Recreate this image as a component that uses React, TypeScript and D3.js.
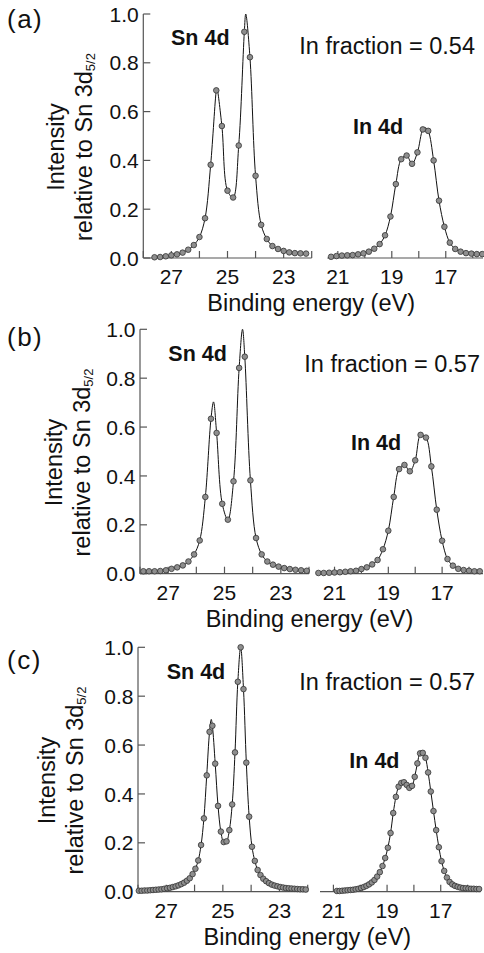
import React from 'react';
import * as d3 from 'd3';

const FONT = '"Liberation Sans", Arial, Helvetica, sans-serif';

// ---------- data: panel (a) ----------
const aSnE = [27.6, 27.4, 27.2, 27.0, 26.8, 26.6, 26.4, 26.2, 26.0, 25.8, 25.6, 25.4, 25.2, 25.0, 24.8, 24.6, 24.4, 24.2, 24.0, 23.8, 23.6, 23.4, 23.2, 23.0, 22.8, 22.6, 22.4, 22.2];
const aSnI = [0.003, 0.004, 0.007, 0.011, 0.015, 0.022, 0.034, 0.053, 0.086, 0.163, 0.382, 0.687, 0.541, 0.276, 0.248, 0.461, 0.927, 0.823, 0.337, 0.136, 0.078, 0.049, 0.037, 0.029, 0.023, 0.020, 0.019, 0.018];
const aSnFitE = [25.38, 24.35];
const aSnFitI = [0.697, 1.0];
const aInE = [21.25, 21.05, 20.85, 20.65, 20.45, 20.25, 20.05, 19.85, 19.65, 19.45, 19.25, 19.05, 18.85, 18.65, 18.45, 18.25, 18.05, 17.85, 17.65, 17.45, 17.25, 17.05, 16.85, 16.65, 16.45, 16.25, 16.05, 15.85, 15.65];
const aInI = [0.005, 0.008, 0.010, 0.011, 0.012, 0.015, 0.019, 0.026, 0.038, 0.057, 0.093, 0.170, 0.303, 0.405, 0.420, 0.386, 0.433, 0.527, 0.521, 0.400, 0.235, 0.128, 0.063, 0.037, 0.026, 0.020, 0.018, 0.016, 0.016];
const aInFitE = [17.76];
const aInFitI = [0.534];

// ---------- data: panel (b) ----------
const bSnE = [27.88, 27.68, 27.48, 27.28, 27.08, 26.88, 26.68, 26.48, 26.28, 26.08, 25.88, 25.68, 25.48, 25.28, 25.08, 24.88, 24.68, 24.48, 24.28, 24.08, 23.88, 23.68, 23.48, 23.28, 23.08, 22.88, 22.68, 22.48, 22.28, 22.08];
const bSnI = [0.010, 0.010, 0.010, 0.011, 0.014, 0.020, 0.026, 0.034, 0.050, 0.079, 0.136, 0.314, 0.634, 0.576, 0.286, 0.221, 0.378, 0.842, 0.888, 0.382, 0.146, 0.079, 0.050, 0.037, 0.029, 0.023, 0.019, 0.016, 0.014, 0.012];
const bSnFitE = [25.39, 24.36];
const bSnFitI = [0.703, 1.0];
const bInE = [21.6, 21.4, 21.2, 21.0, 20.8, 20.6, 20.4, 20.2, 20.0, 19.8, 19.6, 19.4, 19.2, 19.0, 18.8, 18.6, 18.4, 18.2, 18.0, 17.8, 17.6, 17.4, 17.2, 17.0, 16.8, 16.6, 16.4, 16.2, 16.0, 15.8, 15.6];
const bInI = [0.003, 0.003, 0.004, 0.005, 0.006, 0.008, 0.010, 0.012, 0.019, 0.026, 0.038, 0.056, 0.100, 0.176, 0.314, 0.428, 0.445, 0.419, 0.464, 0.568, 0.557, 0.439, 0.262, 0.135, 0.060, 0.033, 0.020, 0.015, 0.012, 0.010, 0.010];
const bInFitE: number[] = [];
const bInFitI: number[] = [];

// ---------- data: panel (c) ----------
const cSnE = [27.97, 27.87, 27.77, 27.67, 27.57, 27.47, 27.37, 27.27, 27.17, 27.07, 26.97, 26.87, 26.77, 26.67, 26.57, 26.47, 26.37, 26.27, 26.17, 26.07, 25.97, 25.87, 25.77, 25.67, 25.57, 25.47, 25.37, 25.27, 25.17, 25.07, 24.97, 24.87, 24.77, 24.67, 24.57, 24.47, 24.37, 24.27, 24.17, 24.07, 23.97, 23.87, 23.77, 23.67, 23.57, 23.47, 23.37, 23.27, 23.17, 23.07, 22.97, 22.87, 22.77, 22.67, 22.57, 22.47, 22.37, 22.27, 22.17, 22.07];
const cSnI = [0.004, 0.004, 0.005, 0.005, 0.006, 0.007, 0.008, 0.009, 0.010, 0.012, 0.014, 0.016, 0.019, 0.022, 0.026, 0.031, 0.037, 0.045, 0.055, 0.072, 0.094, 0.128, 0.191, 0.300, 0.476, 0.654, 0.679, 0.524, 0.351, 0.246, 0.203, 0.206, 0.252, 0.357, 0.570, 0.859, 1.000, 0.829, 0.528, 0.307, 0.184, 0.126, 0.089, 0.068, 0.053, 0.043, 0.035, 0.029, 0.025, 0.022, 0.019, 0.017, 0.015, 0.014, 0.013, 0.012, 0.011, 0.010, 0.010, 0.009];
const cSnFitE = [25.41];
const cSnFitI = [0.705];
const cInE = [20.87, 20.77, 20.67, 20.57, 20.47, 20.37, 20.27, 20.17, 20.07, 19.97, 19.87, 19.77, 19.67, 19.57, 19.47, 19.37, 19.27, 19.17, 19.07, 18.97, 18.87, 18.77, 18.67, 18.57, 18.47, 18.37, 18.27, 18.17, 18.07, 17.97, 17.87, 17.77, 17.67, 17.57, 17.47, 17.37, 17.27, 17.17, 17.07, 16.97, 16.87, 16.77, 16.67, 16.57, 16.47, 16.37, 16.27, 16.17, 16.07, 15.97, 15.87, 15.77, 15.67, 15.57];
const cInI = [0.003, 0.003, 0.004, 0.005, 0.006, 0.007, 0.008, 0.010, 0.012, 0.015, 0.019, 0.024, 0.030, 0.038, 0.048, 0.062, 0.080, 0.105, 0.138, 0.180, 0.240, 0.322, 0.388, 0.430, 0.445, 0.448, 0.437, 0.425, 0.433, 0.470, 0.525, 0.566, 0.568, 0.548, 0.488, 0.410, 0.330, 0.252, 0.182, 0.125, 0.085, 0.058, 0.040, 0.030, 0.024, 0.020, 0.017, 0.015, 0.014, 0.013, 0.012, 0.012, 0.011, 0.011];
const cInFitE: number[] = [];
const cInFitI: number[] = [];

// ---------- ticks / labels ----------
const yTicks = [0, 0.2, 0.4, 0.6, 0.8, 1.0];
const leftTickLabels = [27, 25, 23];
const rightTickLabels = [21, 19, 17];
const panelLabels = ['(a)', '(b)', '(c)'];
const fractionLabels = ['In fraction = 0.54', 'In fraction = 0.57', 'In fraction = 0.57'];

// ---------- layout ----------
type Seg = { x0: number; x1: number; e0: number; e1: number };
type Layout = {
  y0: number; y1: number; L: Seg; R: Seg;
  labelY: number; snX: number; snY: number; fracX: number; fracY: number;
  inX: number; inY: number; titleX1: number; titleX2: number;
};
const layouts: Layout[] = [
  { y0: 258, y1: 14, L: { x0: 143.3, x1: 311.7, e0: 28, e1: 22 }, R: { x0: 327.3, x1: 483, e0: 21.39, e1: 15.62 },
    labelY: 28, snX: 171, snY: 45, fracX: 475, fracY: 54, inX: 353, inY: 134, titleX1: 64, titleX2: 92 },
  { y0: 573.7, y1: 329.3, L: { x0: 140, x1: 309, e0: 28, e1: 22 }, R: { x0: 320, x1: 483, e0: 21.54, e1: 15.48 },
    labelY: 346, snX: 168.3, snY: 361, fracX: 480, fracY: 371.5, inX: 351, inY: 450, titleX1: 62, titleX2: 90 },
  { y0: 891.7, y1: 647.3, L: { x0: 138, x1: 307.7, e0: 28, e1: 22 }, R: { x0: 320, x1: 480.7, e0: 21.5, e1: 15.51 },
    labelY: 669, snX: 166.7, snY: 678.5, fracX: 475, fracY: 690, inX: 349.3, inY: 767.5, titleX1: 55, titleX2: 83 },
];

type Series = { E: number[]; I: number[]; fE: number[]; fI: number[] };
const panelData: { sn: Series; inn: Series }[] = [
  { sn: { E: aSnE, I: aSnI, fE: aSnFitE, fI: aSnFitI }, inn: { E: aInE, I: aInI, fE: aInFitE, fI: aInFitI } },
  { sn: { E: bSnE, I: bSnI, fE: bSnFitE, fI: bSnFitI }, inn: { E: bInE, I: bInI, fE: bInFitE, fI: bInFitI } },
  { sn: { E: cSnE, I: cSnI, fE: cSnFitE, fI: cSnFitI }, inn: { E: cInE, I: cInI, fE: cInFitE, fI: cInFitI } },
];

const AXIS = '#555';
const TICK_FS = 21;
const TITLE_FS = 23.5;

function SeriesMarks({ s, x, y }: { s: Series; x: d3.ScaleLinear<number, number>; y: d3.ScaleLinear<number, number> }) {
  const pts: [number, number][] = s.E.map((e, i) => [e, s.I[i]] as [number, number])
    .concat(s.fE.map((e, i) => [e, s.fI[i]] as [number, number]))
    .sort((a, b) => b[0] - a[0]);
  const path = d3.line<[number, number]>().x(d => x(d[0])).y(d => y(d[1])).curve(d3.curveCatmullRom.alpha(0.5))(pts) || '';
  return (
    <g>
      <path d={path} fill="none" stroke="#111" strokeWidth={1} />
      {s.E.map((e, i) => (
        <circle key={i} cx={x(e)} cy={y(s.I[i])} r={2.8} fill="#8e8e8e" stroke="#333" strokeWidth={0.8} />
      ))}
    </g>
  );
}

function XAxis({ seg, y0, x, labels }: { seg: Seg; y0: number; x: d3.ScaleLinear<number, number>; labels: number[] }) {
  const lo = Math.min(seg.e0, seg.e1), hi = Math.max(seg.e0, seg.e1);
  const ticks = d3.range(Math.ceil(lo - 1e-6), Math.floor(hi + 1e-6) + 1);
  return (
    <g>
      <line x1={seg.x0} x2={seg.x1} y1={y0} y2={y0} stroke={AXIS} strokeWidth={1.2} />
      {ticks.map(t => (
        <line key={t} x1={x(t)} x2={x(t)} y1={y0} y2={y0 - 7} stroke={AXIS} strokeWidth={1.2} />
      ))}
      {labels.map(t => (
        <text key={'l' + t} x={x(t)} y={y0 + 26} textAnchor="middle" fontSize={TICK_FS} fontFamily={FONT} fill="#111">{t}</text>
      ))}
    </g>
  );
}

function Panel({ idx }: { idx: number }) {
  const L = layouts[idx];
  const D = panelData[idx];
  const y = d3.scaleLinear().domain([0, 1]).range([L.y0, L.y1]);
  const xL = d3.scaleLinear().domain([L.L.e0, L.L.e1]).range([L.L.x0, L.L.x1]);
  const xR = d3.scaleLinear().domain([L.R.e0, L.R.e1]).range([L.R.x0, L.R.x1]);
  const midY = (L.y0 + L.y1) / 2 + 11;
  const titleCx = (L.L.x0 + L.R.x1) / 2 - 2;
  return (
    <g>
      {/* y axis */}
      <line x1={L.L.x0} x2={L.L.x0} y1={y(0)} y2={y(1)} stroke={AXIS} strokeWidth={1.2} />
      {yTicks.map(t => (
        <g key={t}>
          <line x1={L.L.x0} x2={L.L.x0 + 7} y1={y(t)} y2={y(t)} stroke={AXIS} strokeWidth={1.2} />
          <text x={L.L.x0 - 4.5} y={y(t)} dy="0.36em" textAnchor="end" fontSize={TICK_FS} fontFamily={FONT} fill="#111">{t.toFixed(1)}</text>
        </g>
      ))}
      <XAxis seg={L.L} y0={L.y0} x={xL} labels={leftTickLabels} />
      <XAxis seg={L.R} y0={L.y0} x={xR} labels={rightTickLabels} />
      <SeriesMarks s={D.sn} x={xL} y={y} />
      <SeriesMarks s={D.inn} x={xR} y={y} />
      {/* texts */}
      <text x={7} y={L.labelY} fontSize={26} letterSpacing={1.5} fontFamily={FONT} fill="#111">{panelLabels[idx]}</text>
      <text x={L.snX} y={L.snY} fontSize={21.5} fontWeight="bold" fontFamily={FONT} fill="#111">Sn 4d</text>
      <text x={L.inX} y={L.inY} fontSize={21.5} fontWeight="bold" fontFamily={FONT} fill="#111">In 4d</text>
      <text x={L.fracX} y={L.fracY} textAnchor="end" fontSize={TITLE_FS} fontFamily={FONT} fill="#111">{fractionLabels[idx]}</text>
      <text x={titleCx} y={L.y0 + 53} textAnchor="middle" fontSize={TITLE_FS} fontFamily={FONT} fill="#111">Binding energy (eV)</text>
      <text transform={`translate(${L.titleX1},${midY}) rotate(-90)`} textAnchor="middle" fontSize={TITLE_FS} fontFamily={FONT} fill="#111">Intensity</text>
      <text transform={`translate(${L.titleX2},${midY}) rotate(-90)`} textAnchor="middle" fontSize={TITLE_FS} fontFamily={FONT} fill="#111">
        relative to Sn 3d<tspan fontSize={13} dy={3}>5/2</tspan>
      </text>
    </g>
  );
}

export default function App() {
  return (
    <svg width={484} height={953} viewBox="0 0 484 953" style={{ position: 'absolute', left: 0, top: 0, background: '#fff' }}>
      <rect x={0} y={0} width={484} height={953} fill="#fff" />
      {[0, 1, 2].map(i => <Panel key={i} idx={i} />)}
    </svg>
  );
}
